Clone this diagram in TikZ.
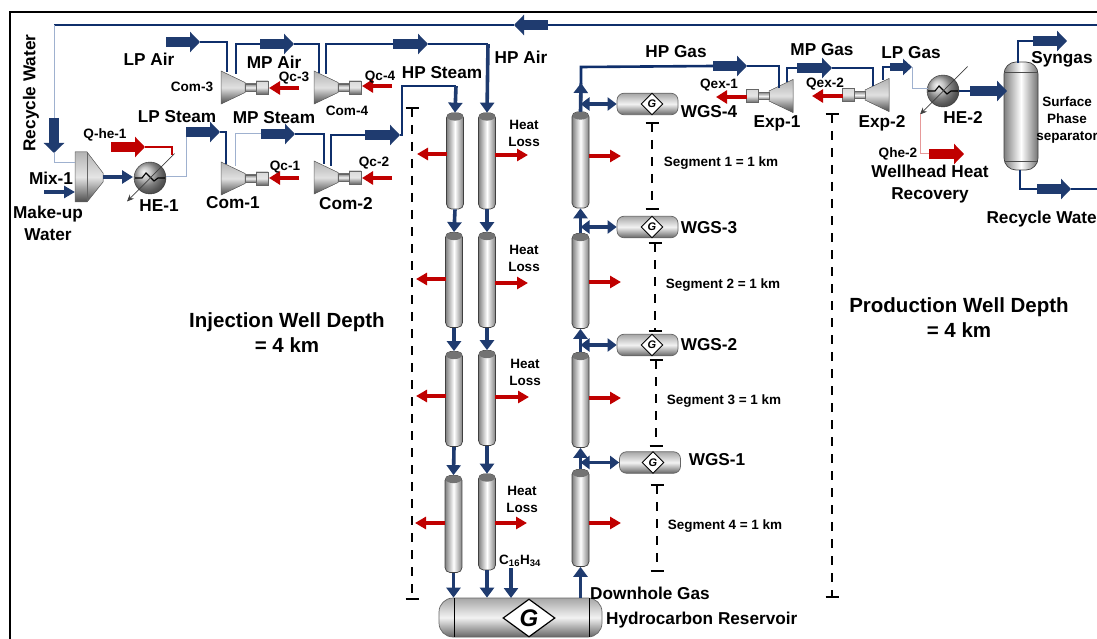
\documentclass[tikz,border=0pt]{standalone}
\usepackage{fontspec}
\setmainfont{Liberation Sans}
\usetikzlibrary{arrows.meta,shapes.geometric,calc}
\definecolor{navy}{HTML}{0F2F6B}
\definecolor{blockb}{HTML}{1F3B6F}
\definecolor{redq}{HTML}{C00000}
\definecolor{thinb}{HTML}{9FB1CF}
\tikzset{
  pipe/.style={draw=navy,line width=2.6pt},
  thinpipe/.style={draw=thinb,line width=1pt},
  flow/.style={draw=blockb,line width=9.5pt,-{Triangle[width=20pt,length=10pt]}},
  conn/.style={draw=blockb,line width=3.6pt,-{Triangle[width=14pt,length=10pt]}},
  biconn/.style={draw=blockb,line width=3.2pt,{Triangle[width=13pt,length=9pt]}-{Triangle[width=13pt,length=9pt]}},
  redflow/.style={draw=redq,line width=9.5pt,-{Triangle[width=20pt,length=10pt]}},
  redloss/.style={draw=redq,line width=3.6pt,-{Triangle[width=12pt,length=11pt]}},
  tubev/.style={draw=black!75,line width=.7pt,rounded corners=5pt,left color=black!50,right color=black!50,middle color=white,minimum width=17pt,inner sep=0pt},
  vessel/.style={draw=black!60,line width=.7pt,rounded corners=7pt,top color=black!35,bottom color=black!60,middle color=black!5,inner sep=0pt},
  gdiam/.style={diamond,draw=black,line width=.9pt,fill=white,inner sep=0pt,aspect=1.35,font=\bfseries\itshape},
  lb/.style={font=\bfseries\fontsize{17.2}{19}\selectfont,align=center,inner sep=0pt},
  sm/.style={font=\bfseries\fontsize{13.6}{15}\selectfont,align=center,inner sep=0pt},
  seg/.style={font=\bfseries\fontsize{13.5}{15}\selectfont,inner sep=0pt},
  big/.style={font=\bfseries\fontsize{20.5}{25}\selectfont,align=center,inner sep=0pt},
  scale bar/.style={draw=black,line width=2pt,dash pattern=on 9pt off 8pt},
  bar cap/.style={draw=black,line width=2pt},
}
\newcommand{\turbo}[4]{% name, x of cone wide end, y centre, direction
  \begin{scope}[shift={(#2,#3)},xscale=#4]
    \filldraw[draw=black!60,line width=.5pt,top color=black!30,bottom color=black!70,middle color=black!12]
      (0,-16.5) -- (24,-5) -- (24,5) -- (0,16.5) -- cycle;
    \filldraw[draw=black!60,line width=.5pt,top color=black!45,bottom color=black!55,middle color=black!5]
      (24,-3.5) rectangle (35,3.5);
    \filldraw[draw=black!60,line width=.5pt,top color=black!15,bottom color=black!60,middle color=black!10]
      (35,-6.5) rectangle (47,6.5);
    \coordinate (#1) at (47,0);
  \end{scope}}
\newcommand{\hexch}[3]{% name, x, y
  \node[circle,draw=black!80,ball color=black!30,minimum size=32pt,inner sep=0pt] (#1) at (#2,#3) {};
  \draw[black,line width=1.1pt,shift={(#2,#3)}] (-15,0) -- (-8,0) -- (-4,-5) -- (4,3) -- (8,0) -- (15,0);
  \coordinate (#1top) at ($(#1)+(24.5,-24.5)$);
  \coordinate (#1bot) at ($(#1)+(-23,23.5)$);
  \draw[black!75,line width=.7pt,-{Stealth[length=7pt,width=6pt]}] (#1top) -- (#1bot);
}
\newcommand{\tubecap}[1]{%
  \fill[black!55] ($(#1.north)+(0,4)$) ellipse [x radius=8pt,y radius=4pt];}
\begin{document}
\begin{tikzpicture}[x=1pt,y=-1pt]
\useasboundingbox (0,0) rectangle (1097,639);
\clip (0,0) rectangle (1097,639);
\coordinate (fTL) at (10,12); \coordinate (fBR) at (1120,660);
\draw[black,line width=1.4pt] (fTL) rectangle (fBR);

% ---- coordinates for flows
\foreach \n/\x/\y in {
 topR/1110/25, topA/548/25, topB/514/25, topC/54/25, rwA/54/118, rwB/54/153, mixIn/75/163,
 muA/44/192, muB/75/192, mixOut/103/177, heOneIn/133/177,
 heOneOut/166/177, heOneJ/176/177, lsA/186/132, lsB/220/132, comOneIn/226/164, lsJ/226/132,
 qheA/111/147, qheB/145/147, qheC/172/147, qheD/172/155,
 laA/166/42, laB/200/42, laJ/227/42, comThreeIn/227/72,
 comThreeOut/236/74, maA/260/44, maB/294/44, comFourIn/319/73,
 comFourOut/326/74, mbA/393/44, mbB/428/44, hpAirJ/488/44,
 comOneOut/235/166, msA/261/134, msB/295/134, comTwoIn/324/164,
 comTwoOut/331/166, hsA/365/135, hsB/400/135, hsJ/402/135, hsK/402/86, hsL/456/86,
 cTwoQ/392/178, cOneQ/299/178, cThreeQ/299/88, cFourQ/392/86,
 cOneE/269/178, cThreeE/269/88, cFourE/362/86, cTwoE/362/178,
 hgA/581/67, hgB/713/66, hgC/747/66, hgJ/779/66, expOneIn/779/88,
 expOneOut/787/82, mgA/797/68, mgB/832/68, expTwoIn/873/86,
 expTwoOut/883/80, lgA/890/67, lgB/912/67, heTwoIn/928/89, lgJ/912/89,
 qxOneA/747/97, qxOneB/716/97, qxTwoA/843/96, qxTwoB/812/96,
 heTwoOut/959/91, toSepA/970/91, toSepB/1007/91,
 sepTop/1018/63, syJ/1018/41, syA/1033/41, syB/1067/41,
 sepBot/1020/170, rcJ/1020/189, rcA/1037/189, rcB/1071/189, rcC/1110/189,
 qhJ/921/154, qhA/929/154, qhB/964/154,
 cfA/511/568, cfB/511/598, upJ/581/83}
 {\coordinate (\n) at (\x,\y);}

% ---- scale bars
\foreach \n/\x/\ya/\yb in {L/412/108/599, S1/652/123/209, S2/655/243/331, S3/656/360/446, S4/657/485/571, R/832/114/597}{
  \coordinate (bar\n a) at (\x,\ya); \coordinate (bar\n b) at (\x,\yb);
  \draw[scale bar] (bar\n a) -- (bar\n b);
  \draw[bar cap] ($(bar\n a)+(-6.5,0)$) -- ($(bar\n a)+(6.5,0)$);
  \draw[bar cap] ($(bar\n b)+(-6.5,0)$) -- ($(bar\n b)+(6.5,0)$);
}

% ---- tubes
\foreach \n/\x/\yc/\h in {A1/455/161/96, A2/454/280/95, A3/454/399/95, A4/453.5/524/97,
  B1/487/161/96, B2/487/280/95, B3/487/398/95, B4/487/522/96,
  C1/580.5/160/96, C2/580.5/281/95, C3/580.5/400/95, C4/580.5/518/97}{
  \node[tubev,minimum height=\h pt] (\n) at (\x,\yc) {};
  \tubecap{\n}
}

% ---- reservoir
\node[vessel,rounded corners=14pt,minimum width=163pt,minimum height=39pt] (res) at (520.5,617.5) {};
\coordinate (resL) at (454,598); \coordinate (resLb) at (454,637);
\coordinate (resR) at (589,598); \coordinate (resRb) at (589,637);
\draw[black,line width=.8pt] (resL) -- (resLb);
\draw[black,line width=.8pt] (resR) -- (resRb);
\node[gdiam,minimum width=52pt,minimum height=38pt,line width=1.2pt,font=\bfseries\itshape\fontsize{24}{24}\selectfont] (resG) at (529,618) {G};

% ---- WGS vessels
\foreach \n/\x/\y/\dx in {W4/647.5/104/652, W3/647.5/227/652, W2/647.5/345/652, W1/650/462.5/653}{
  \node[vessel,minimum width=61pt,minimum height=21.5pt] (\n) at (\x,\y) {};
  \node[gdiam,minimum width=22pt,minimum height=22pt,font=\bfseries\itshape\fontsize{11}{11}\selectfont] (\n G) at (\dx,\y) {G};
}

% ---- separator
\node[tubev,rounded corners=12pt,minimum width=34pt,minimum height=108pt,left color=black!50,right color=black!55,middle color=white] (sep) at (1021,116) {};
\coordinate (sepA) at (1004.5,72); \coordinate (sepB) at (1037.5,72);
\coordinate (sepC) at (1004.5,161); \coordinate (sepD) at (1037.5,161);
\draw[black!70,line width=.6pt] (sepA) -- (sepB);
\draw[black!70,line width=.6pt] (sepC) -- (sepD);

% ---- mixer
\coordinate (mixP) at (75,152);
\filldraw[draw=black!60,line width=.5pt,top color=black!30,bottom color=black!70,middle color=black!10]
  (mixP) -- (87,152) -- (mixOut |- 0,173) -- (mixOut |- 0,182) -- (87,202) -- (75,202) -- cycle;
\draw[black!60,line width=.5pt] (87,152) -- (87,202);

% ---- machines
\turbo{ComOne}{221}{178.5}{1}
\turbo{ComTwo}{314}{177.5}{1}
\turbo{ComThree}{221}{87.5}{1}
\turbo{ComFour}{314}{87.5}{1}
\turbo{ExpOne}{793}{96}{-1}
\turbo{ExpTwo}{889}{95}{-1}
\hexch{HEone}{150}{178}
\hexch{HEtwo}{943}{91}
\coordinate (heTwoThin) at (HEtwo.west);

% ---- water / air / steam pipes
\draw[pipe] (topR) -- (topA);
\draw[pipe] (topB) -- (topC);
\draw[thinpipe] (topC) -- (rwA);
\draw[thinpipe] (rwB) |- (mixIn);
\draw[flow] (topA) -- (topB);
\draw[flow] (rwA) -- (rwB);
\draw[draw=blockb,line width=4.5pt,-{Triangle[width=12pt,length=11pt]}] (muA) -- (muB);
\draw[draw=blockb,line width=4.5pt,-{Triangle[width=13pt,length=11pt]}] (mixOut) -- (heOneIn);
\draw[thinpipe] (heOneOut) -| (lsA);
\draw[pipe] (lsB) -| (comOneIn);
\draw[flow] (lsA) -- (lsB);
\draw[redflow] (qheA) -- (qheB);
\draw[draw=redq,line width=1.5pt] (qheB) -| (qheD);
\draw[pipe] (laB) -| (comThreeIn);
\draw[flow] (laA) -- (laB);
\draw[pipe] (comThreeOut) |- (maA);
\draw[pipe] (maB) -| (comFourIn);
\draw[flow] (maA) -- (maB);
\draw[pipe] (comFourOut) |- (mbA);
\draw[pipe] (mbB) -- (hpAirJ);
\draw[conn] (hpAirJ) -- (B1.north);
\draw[flow] (mbA) -- (mbB);
\draw[thinpipe] (comOneOut) |- (msA);
\draw[pipe] (msB) -| (comTwoIn);
\draw[flow] (msA) -- (msB);
\draw[pipe] (comTwoOut) |- (hsA);
\draw[pipe] (hsB) -- (hsJ) -- (hsK) -- (hsL);
\draw[conn] (hsL) -- (A1.north);
\draw[flow] (hsA) -- (hsB);
\foreach \a/\b in {cOneQ/cOneE, cTwoQ/cTwoE, cThreeQ/cThreeE, cFourQ/cFourE}{
  \draw[redloss,-{Triangle[width=13pt,length=11pt]}] (\a) -- (\b);}

% ---- well strings
\foreach \a/\b in {A1/A2,A2/A3,A3/A4,B1/B2,B2/B3,B3/B4}{\draw[conn] (\a.south) -- (\b.north);}
\coordinate (aRes) at (A4.south |- res.north);
\coordinate (bRes) at (B4.south |- res.north);
\coordinate (cRes) at (C4.south |- res.north);
\draw[conn] (A4.south) -- (aRes);
\draw[conn] (B4.south) -- (bRes);
\draw[conn] (cfA) -- (cfB);
\draw[conn] (cRes) -- (C4.south);
\foreach \a/\b in {C4/C3,C3/C2,C2/C1}{\draw[conn] (\a.north) -- (\b.south);}
\draw[pipe,line width=3pt] (C1.north) -- (hgA |- upJ);
\draw[conn] (C1.north) -- (upJ);
\draw[biconn] (C1.north |- W4.west) -- (W4.west);
\draw[biconn] (C2.north |- W3.west) -- (W3.west);
\draw[biconn] (C3.north |- W2.west) -- (W2.west);
\draw[biconn] (C4.north |- W1.west) -- (W1.west);

% ---- heat loss arrows
\foreach \n/\y/\xa/\xb in {a/154/447/417, b/155/495/528, c/156/589/621,
  d/279/446/416, e/283/495/528, f/282/589/621,
  g/396/446/416, h/397/495/529, i/398/589/621,
  j/523/445/415, k/523/495/527, l/523/589/621}{
  \coordinate (hl\n a) at (\xa,\y); \coordinate (hl\n b) at (\xb,\y);
  \draw[redloss] (hl\n a) -- (hl\n b);
}

% ---- gas train
\draw[pipe] (upJ) -- (hgA) -- (hgB);
\draw[pipe] (hgC) -| (expOneIn);
\draw[flow] (hgB) -- (hgC);
\draw[pipe] (expOneOut) |- (mgA);
\draw[pipe] (mgB) -| (expTwoIn);
\draw[flow] (mgA) -- (mgB);
\draw[pipe] (expTwoOut) |- (lgA);
\draw[draw=blockb,line width=8pt,-{Triangle[width=16pt,length=9pt]}] (lgA) -- (lgB);
\draw[thinpipe] (lgB) |- (heTwoIn);
\draw[redloss,-{Triangle[width=13pt,length=11pt]}] (qxOneA) -- (qxOneB);
\draw[redloss,-{Triangle[width=13pt,length=11pt]}] (qxTwoA) -- (qxTwoB);
\draw[pipe] (heTwoOut) -- (toSepA);
\draw[flow] (toSepA) -- (toSepB);
\draw[pipe] (sepTop) |- (syA);
\draw[flow] (syA) -- (syB);
\draw[pipe] (sepBot) |- (rcA);
\draw[pipe] (rcB) -- (rcC);
\draw[flow] (rcA) -- (rcB);
\draw[draw=redq!40,line width=1pt] (HEtwobot) |- (qhA);
\draw[redflow] (qhA) -- (qhB);

% ---- labels
\node[lb,rotate=90] (t1) at (31,93) {Recycle Water};
\node[lb] (t2) at (149,59) {LP Air};
\node[lb] (t3) at (274,62) {MP Air};
\node[lb] (t4) at (521,57) {HP Air};
\node[sm] (t5) at (192,87) {Com-3};
\node[sm] (t6) at (347,111) {Com-4};
\node[lb] (t7) at (177,117) {LP Steam};
\node[lb] (t8) at (274,118) {MP Steam};
\node[lb] (t9) at (442,73) {HP Steam};
\node[sm] (t10) at (294,78) {Qc-3};
\node[sm] (t11) at (380,77) {Qc-4};
\node[sm] (t12) at (285,167) {Qc-1};
\node[sm] (t13) at (374,163) {Qc-2};
\node[sm] (t14) at (105,135) {Q-he-1};
\node[lb] (t15) at (51,178) {Mix-1};
\node[lb] (t16) at (48,223) {Make-up\\[3pt]Water};
\node[lb] (t17) at (159,206) {HE-1};
\node[lb] (t18) at (233,203) {Com-1};
\node[lb] (t19) at (346,204) {Com-2};
\node[lb] (t20) at (676,52) {HP Gas};
\node[lb] (t21) at (822,50) {MP Gas};
\node[lb] (t22) at (911,53) {LP Gas};
\node[sm] (t23) at (719,85) {Qex-1};
\node[sm] (t24) at (825,84) {Qex-2};
\node[lb] (t25) at (777,123) {Exp-1};
\node[lb] (t26) at (882,123) {Exp-2};
\node[lb] (t27) at (963,117) {HE-2};
\node[lb] (t28) at (1062,59) {Syngas};
\node[sm,font=\bfseries\fontsize{13.5}{17}\selectfont] (t29) at (1067,120) {Surface\\Phase\\separator};
\node[sm] (t30) at (898,154) {Qhe-2};
\node[lb] (t31) at (930,184.5) {Wellhead Heat\\[3pt]Recovery};
\node[lb] (t32) at (1045,219) {Recycle Water};
\node[lb] (t33) at (709,112) {WGS-4};
\node[lb] (t34) at (709,228) {WGS-3};
\node[lb] (t35) at (709,345) {WGS-2};
\node[lb] (t36) at (717,460) {WGS-1};
\node[seg] (t37) at (721,163) {Segment 1 = 1 km};
\node[seg] (t38) at (723,285) {Segment 2 = 1 km};
\node[seg] (t39) at (724,401) {Segment 3 = 1 km};
\node[seg] (t40) at (725,526) {Segment 4 = 1 km};
\node[big] (t41) at (287,332.5) {Injection Well Depth\\= 4 km};
\node[big] (t42) at (959,317.5) {Production Well Depth\\= 4 km};
\foreach \n/\x/\y in {a/524/133.5, b/524/258.5, c/525/372.5, d/522/499.5}{
  \node[sm,font=\bfseries\fontsize{13.5}{17}\selectfont] (hl\n) at (\x,\y) {Heat\\Loss};}
\node[sm,font=\bfseries\fontsize{13.5}{14}\selectfont] (t43) at (520,561) {C$_{\mathbf{16}}$H$_{\mathbf{34}}$};
\node[lb,anchor=west] (t44) at (590,593) {Downhole Gas};
\node[lb,anchor=west] (t45) at (606,620) {Hydrocarbon Reservoir};
\end{tikzpicture}
\end{document}
